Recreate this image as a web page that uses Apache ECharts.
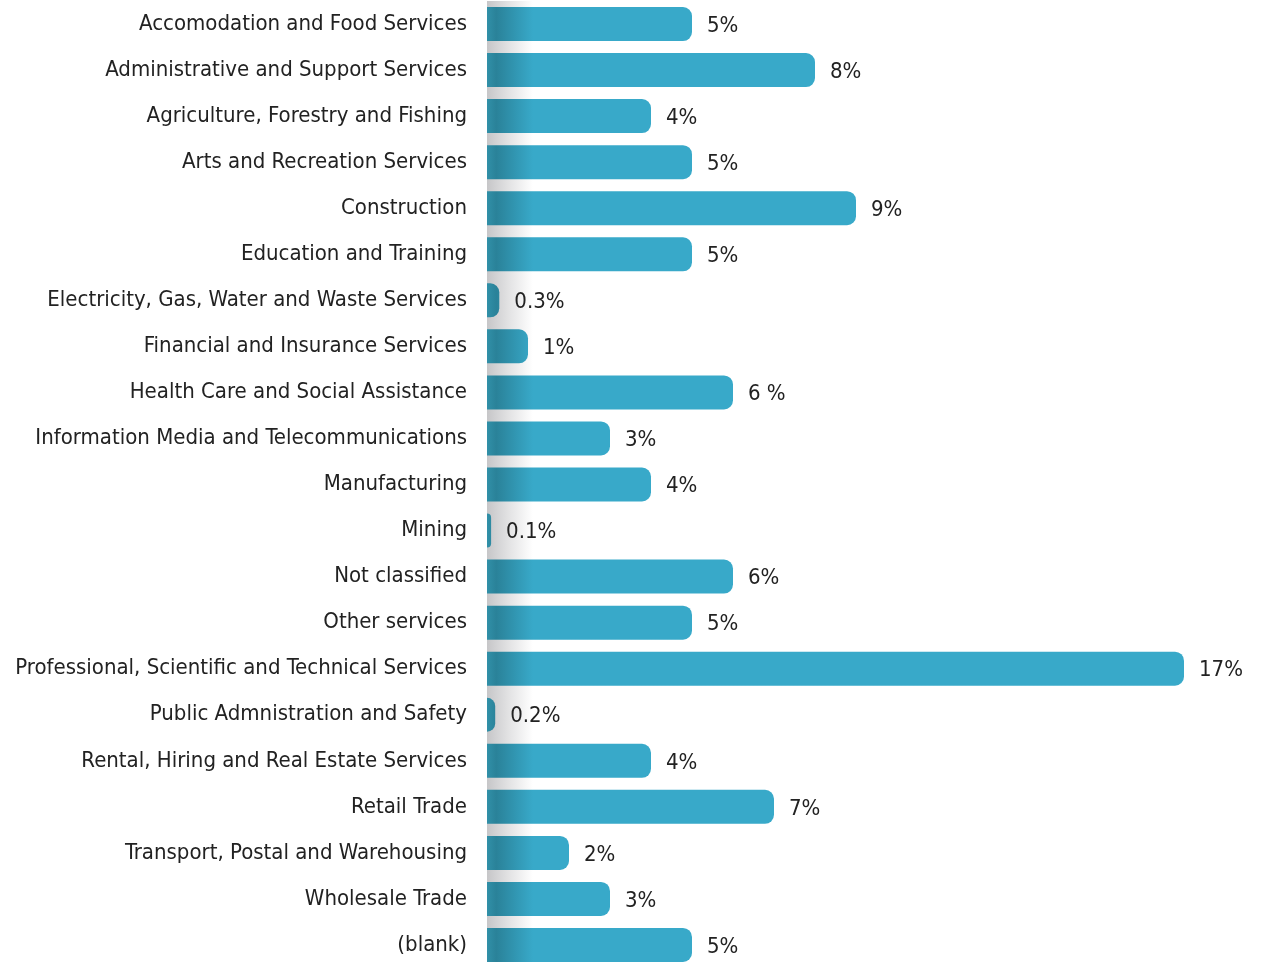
<!DOCTYPE html>
<html>
<head>
<meta charset="utf-8">
<script src="https://cdn.jsdelivr.net/npm/echarts@6/dist/echarts.min.js"></script>
<style>
  html, body { margin: 0; padding: 0; background: #ffffff; }
  #chart { width: 1262px; height: 962px; }
</style>
</head>
<body>
<div id="chart"></div>
<script>
// Share of businesses by industry (percent)
const industries = [
  'Accomodation and Food Services',
  'Administrative and Support Services',
  'Agriculture, Forestry and Fishing',
  'Arts and Recreation Services',
  'Construction',
  'Education and Training',
  'Electricity, Gas, Water and Waste Services',
  'Financial and Insurance Services',
  'Health Care and Social Assistance',
  'Information Media and Telecommunications',
  'Manufacturing',
  'Mining',
  'Not classified',
  'Other services',
  'Professional, Scientific and Technical Services',
  'Public Admnistration and Safety',
  'Rental, Hiring and Real Estate Services',
  'Retail Trade',
  'Transport, Postal and Warehousing',
  'Wholesale Trade',
  '(blank)'
];
const shares = [5, 8, 4, 5, 9, 5, 0.3, 1, 6, 3, 4, 0.1, 6, 5, 17, 0.2, 4, 7, 2, 3, 5];
const shareLabels = ['5%', '8%', '4%', '5%', '9%', '5%', '0.3%', '1%', '6 %', '3%', '4%', '0.1%',
  '6%', '5%', '17%', '0.2%', '4%', '7%', '2%', '3%', '5%'];

const FONT = '"DejaVu Sans Condensed", "Liberation Sans", sans-serif';
const GRID_LEFT = 487;

const chart = echarts.init(document.getElementById('chart'), null, { renderer: 'canvas' });

// darker teal fading into the main bar colour over the first few pixels of every bar
const barFill = new echarts.graphic.LinearGradient(GRID_LEFT, 0, GRID_LEFT + 46, 0, [
  { offset: 0, color: '#3190a8' },
  { offset: 0.2, color: '#2a8299' },
  { offset: 1, color: '#38a9c9' }
], true);

chart.setOption({
  animation: false,
  grid: {
    left: GRID_LEFT, top: 1, right: 37, height: 967,
    outerBoundsMode: 'none', containLabel: false
  },
  xAxis: {
    type: 'value', min: 0, max: 18,
    show: false
  },
  yAxis: {
    type: 'category',
    inverse: true,
    data: industries,
    axisLine: { show: false },
    axisTick: { show: false },
    axisLabel: {
      margin: 20,
      color: '#222222',
      fontFamily: FONT,
      fontSize: 22
    }
  },
  series: [{
    type: 'bar',
    data: shares,
    barWidth: 34,
    itemStyle: { color: barFill, borderRadius: [0, 9, 9, 0] },
    label: {
      show: true,
      position: 'right',
      distance: 15,
      offset: [0, 2],
      color: '#222222',
      fontFamily: FONT,
      fontSize: 22,
      formatter: p => shareLabels[p.dataIndex]
    },
    // soft grey shading along the baseline
    markArea: {
      silent: true,
      itemStyle: {
        opacity: 1,
        color: new echarts.graphic.LinearGradient(0, 0, 1, 0, [
          { offset: 0, color: '#c6c6c8' },
          { offset: 0.5, color: '#e4e4e5' },
          { offset: 1, color: '#ffffff' }
        ])
      },
      data: [[{ xAxis: 0 }, { xAxis: 1.12 }]]
    },
    z: 3
  }]
});
</script>
</body>
</html>
